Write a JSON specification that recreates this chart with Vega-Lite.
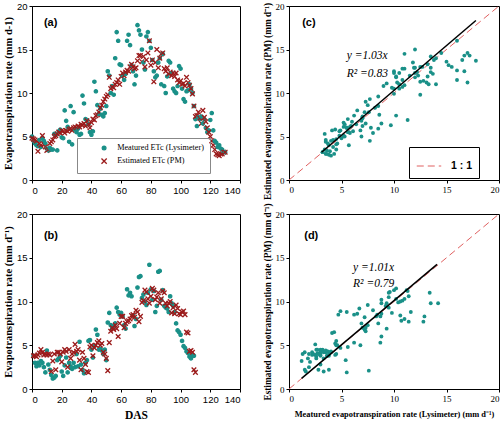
{
  "$schema": "https://vega.github.io/schema/vega-lite/v6.json",
  "background": "white",
  "padding": {"left": 2, "top": 0, "right": 2, "bottom": 0},
  "columns": 2,
  "bounds": "flush",
  "spacing": {"row": 34, "column": 49},
  "resolve": {"scale": {"color": "independent", "shape": "independent", "stroke": "independent"}},
  "config": {
    "view": {"stroke": "black", "strokeWidth": 1},
    "axis": {
      "grid": false, "domainColor": "black", "tickColor": "black", "tickSize": 3,
      "labelColor": "black", "labelFont": "Liberation Sans", "labelFontSize": 9.5, "labelPadding": 2, "labelOverlap": false, "labelSeparation": 0,
      "titleFont": "Liberation Serif", "titleFontWeight": "bold", "titleFontSize": 10.5,
      "titleColor": "black", "titlePadding": 3
    }
  },
  "datasets": {
    "a": [
      {"day":0,"measured":5.0,"estimated":4.8},{"day":1,"measured":4.5,"estimated":4.7},{"day":2,"measured":4.2,"estimated":4.6},
      {"day":3,"measured":4.0,"estimated":4.5},{"day":4,"measured":3.9,"estimated":3.3},{"day":5,"measured":4.6,"estimated":4.2},
      {"day":6,"measured":3.8,"estimated":4.0},{"day":7,"measured":4.8,"estimated":5.1},{"day":8,"measured":4.5,"estimated":4.1},
      {"day":9,"measured":4.2,"estimated":3.8},{"day":10,"measured":3.6,"estimated":3.4},{"day":11,"measured":3.4,"estimated":3.5},
      {"day":12,"measured":3.7,"estimated":4.2},{"day":13,"measured":3.5,"estimated":4.4},{"day":14,"measured":3.5,"estimated":4.6},
      {"day":15,"measured":5.3,"estimated":5.0},{"day":16,"measured":5.2,"estimated":5.1},{"day":17,"measured":3.4,"estimated":5.3},
      {"day":18,"measured":5.6,"estimated":5.5},{"day":19,"measured":5.8,"estimated":5.4},{"day":20,"measured":4.9,"estimated":5.7},
      {"day":21,"measured":4.8,"estimated":5.6},{"day":22,"measured":8.0,"estimated":5.4},{"day":23,"measured":6.8,"estimated":5.7},
      {"day":24,"measured":6.1,"estimated":5.6},{"day":25,"measured":4.4,"estimated":5.8},{"day":26,"measured":8.5,"estimated":5.9},
      {"day":27,"measured":4.1,"estimated":5.7},{"day":28,"measured":7.8,"estimated":6.0},{"day":29,"measured":5.8,"estimated":6.1},
      {"day":30,"measured":5.5,"estimated":6.0},{"day":31,"measured":5.9,"estimated":6.2},{"day":32,"measured":5.2,"estimated":6.1},
      {"day":33,"measured":5.3,"estimated":6.4},{"day":34,"measured":9.7,"estimated":6.3},{"day":35,"measured":8.8,"estimated":6.5},
      {"day":36,"measured":7.0,"estimated":6.2},{"day":37,"measured":6.9,"estimated":6.8},{"day":38,"measured":6.4,"estimated":6.4},
      {"day":39,"measured":5.5,"estimated":6.0},{"day":40,"measured":5.2,"estimated":6.6},{"day":41,"measured":5.6,"estimated":7.0},
      {"day":42,"measured":11.3,"estimated":6.9},{"day":43,"measured":10.2,"estimated":7.4},{"day":44,"measured":8.6,"estimated":7.5},
      {"day":45,"measured":7.6,"estimated":7.8},{"day":46,"measured":8.2,"estimated":8.3},{"day":47,"measured":7.5,"estimated":8.6},
      {"day":48,"measured":7.3,"estimated":9.0},{"day":49,"measured":7.7,"estimated":9.3},{"day":50,"measured":8.5,"estimated":9.6},
      {"day":51,"measured":12.5,"estimated":9.8},{"day":52,"measured":12.0,"estimated":11.8},{"day":53,"measured":10.0,"estimated":10.5},
      {"day":54,"measured":10.8,"estimated":10.7},{"day":55,"measured":9.8,"estimated":10.6},{"day":56,"measured":14.0,"estimated":11.0},
      {"day":57,"measured":17.0,"estimated":11.2},{"day":58,"measured":16.0,"estimated":11.5},{"day":59,"measured":13.3,"estimated":11.0},
      {"day":60,"measured":13.2,"estimated":11.9},{"day":61,"measured":12.0,"estimated":12.3},{"day":62,"measured":11.5,"estimated":12.0},
      {"day":63,"measured":12.2,"estimated":12.4},{"day":64,"measured":16.0,"estimated":12.6},{"day":65,"measured":16.7,"estimated":12.5},
      {"day":66,"measured":15.5,"estimated":13.0},{"day":67,"measured":13.2,"estimated":13.3},{"day":68,"measured":12.5,"estimated":13.0},
      {"day":69,"measured":11.0,"estimated":12.8},{"day":70,"measured":12.0,"estimated":12.9},{"day":71,"measured":17.8,"estimated":13.7},
      {"day":72,"measured":17.2,"estimated":14.3},{"day":73,"measured":16.7,"estimated":14.3},{"day":74,"measured":15.0,"estimated":13.6},
      {"day":75,"measured":13.5,"estimated":14.2},{"day":76,"measured":12.7,"estimated":13.0},{"day":77,"measured":16.5,"estimated":13.8},
      {"day":78,"measured":17.0,"estimated":14.6},{"day":79,"measured":16.0,"estimated":16.0},{"day":80,"measured":15.2,"estimated":13.2},
      {"day":81,"measured":13.8,"estimated":13.8},{"day":82,"measured":12.5,"estimated":11.3},{"day":83,"measured":11.8,"estimated":13.5},
      {"day":84,"measured":12.0,"estimated":15.0},{"day":85,"measured":13.5,"estimated":12.9},{"day":86,"measured":14.0,"estimated":14.0},
      {"day":87,"measured":11.0,"estimated":14.5},{"day":88,"measured":14.5,"estimated":14.6},{"day":89,"measured":10.8,"estimated":12.8},
      {"day":90,"measured":10.0,"estimated":12.5},{"day":91,"measured":11.9,"estimated":12.9},{"day":92,"measured":13.7,"estimated":12.2},
      {"day":93,"measured":13.5,"estimated":12.4},{"day":94,"measured":12.3,"estimated":12.0},{"day":95,"measured":10.5,"estimated":12.3},
      {"day":96,"measured":10.2,"estimated":11.9},{"day":97,"measured":10.0,"estimated":12.3},{"day":98,"measured":10.8,"estimated":11.5},
      {"day":99,"measured":13.1,"estimated":11.2},{"day":100,"measured":12.8,"estimated":11.4},{"day":101,"measured":10.5,"estimated":11.0},
      {"day":102,"measured":9.3,"estimated":11.1},{"day":103,"measured":9.0,"estimated":10.8},{"day":104,"measured":10.2,"estimated":11.8},
      {"day":105,"measured":10.3,"estimated":11.2},{"day":106,"measured":11.0,"estimated":10.9},{"day":107,"measured":10.5,"estimated":10.5},
      {"day":108,"measured":10.0,"estimated":9.9},{"day":109,"measured":8.5,"estimated":8.5},{"day":110,"measured":7.0,"estimated":7.3},
      {"day":111,"measured":6.2,"estimated":7.4},{"day":112,"measured":7.2,"estimated":7.8},{"day":113,"measured":7.0,"estimated":7.1},
      {"day":114,"measured":7.3,"estimated":6.5},{"day":115,"measured":6.5,"estimated":8.0},{"day":116,"measured":7.0,"estimated":7.2},
      {"day":117,"measured":6.0,"estimated":6.7},{"day":118,"measured":5.5,"estimated":6.0},{"day":119,"measured":5.7,"estimated":5.5},
      {"day":120,"measured":6.9,"estimated":5.0},{"day":121,"measured":7.7,"estimated":4.5},{"day":122,"measured":5.7,"estimated":4.0},
      {"day":123,"measured":4.5,"estimated":3.5},{"day":124,"measured":4.3,"estimated":3.0},{"day":125,"measured":3.8,"estimated":2.9},
      {"day":126,"measured":4.0,"estimated":2.8},{"day":127,"measured":3.6,"estimated":3.0},{"day":128,"measured":3.5,"estimated":3.0},
      {"day":129,"measured":3.2,"estimated":3.2},{"day":130,"measured":3.2,"estimated":3.2}
    ],
    "b": [
      {"day":1,"measured":3.8,"estimated":3.8},{"day":2,"measured":3.0,"estimated":3.8},{"day":3,"measured":2.6,"estimated":3.7},
      {"day":4,"measured":3.0,"estimated":3.9},{"day":5,"measured":2.7,"estimated":4.1},{"day":6,"measured":3.2,"estimated":4.5},
      {"day":7,"measured":3.0,"estimated":4.2},{"day":8,"measured":2.5,"estimated":3.9},{"day":9,"measured":1.9,"estimated":4.0},
      {"day":10,"measured":4.4,"estimated":3.9},{"day":11,"measured":2.8,"estimated":4.0},{"day":12,"measured":2.2,"estimated":3.9},
      {"day":13,"measured":1.6,"estimated":2.0},{"day":14,"measured":1.2,"estimated":3.2},{"day":15,"measured":1.3,"estimated":4.0},
      {"day":16,"measured":1.5,"estimated":2.2},{"day":17,"measured":3.3,"estimated":4.2},{"day":18,"measured":3.5,"estimated":4.2},
      {"day":19,"measured":3.8,"estimated":4.0},{"day":20,"measured":2.0,"estimated":3.1},{"day":21,"measured":1.5,"estimated":4.2},
      {"day":22,"measured":2.7,"estimated":4.5},{"day":23,"measured":3.6,"estimated":4.3},{"day":24,"measured":1.9,"estimated":2.5},
      {"day":25,"measured":3.0,"estimated":4.5},{"day":26,"measured":2.6,"estimated":3.5},{"day":27,"measured":2.3,"estimated":4.0},
      {"day":28,"measured":3.0,"estimated":4.2},{"day":29,"measured":2.5,"estimated":5.1},{"day":30,"measured":4.0,"estimated":4.3},
      {"day":31,"measured":2.6,"estimated":4.5},{"day":32,"measured":5.4,"estimated":3.3},{"day":33,"measured":2.8,"estimated":2.2},
      {"day":34,"measured":2.2,"estimated":4.2},{"day":35,"measured":1.8,"estimated":3.5},{"day":36,"measured":3.0,"estimated":2.8},
      {"day":37,"measured":3.3,"estimated":2.0},{"day":38,"measured":5.5,"estimated":1.9},{"day":39,"measured":5.6,"estimated":4.8},
      {"day":40,"measured":4.5,"estimated":5.0},{"day":41,"measured":3.6,"estimated":3.8},{"day":42,"measured":4.9,"estimated":4.7},
      {"day":43,"measured":6.8,"estimated":5.0},{"day":44,"measured":6.2,"estimated":5.3},{"day":45,"measured":4.5,"estimated":5.5},
      {"day":46,"measured":4.6,"estimated":5.0},{"day":47,"measured":4.4,"estimated":5.2},{"day":48,"measured":4.0,"estimated":4.2},
      {"day":49,"measured":4.5,"estimated":4.0},{"day":50,"measured":3.3,"estimated":3.5},{"day":51,"measured":7.6,"estimated":2.1},
      {"day":52,"measured":8.7,"estimated":5.3},{"day":53,"measured":7.3,"estimated":6.6},{"day":54,"measured":7.0,"estimated":7.0},
      {"day":55,"measured":7.2,"estimated":6.8},{"day":56,"measured":7.5,"estimated":7.3},{"day":57,"measured":9.3,"estimated":6.9},
      {"day":58,"measured":8.8,"estimated":6.0},{"day":59,"measured":8.5,"estimated":7.5},{"day":60,"measured":8.7,"estimated":8.3},
      {"day":61,"measured":8.3,"estimated":8.3},{"day":62,"measured":7.3,"estimated":7.0},{"day":63,"measured":6.9,"estimated":7.5},
      {"day":64,"measured":11.4,"estimated":7.7},{"day":65,"measured":10.7,"estimated":7.8},{"day":66,"measured":11.0,"estimated":8.0},
      {"day":67,"measured":10.6,"estimated":8.4},{"day":68,"measured":8.4,"estimated":8.5},{"day":69,"measured":7.2,"estimated":8.2},
      {"day":70,"measured":8.0,"estimated":9.0},{"day":71,"measured":11.6,"estimated":8.8},{"day":72,"measured":12.8,"estimated":7.7},
      {"day":73,"measured":12.9,"estimated":8.3},{"day":74,"measured":10.4,"estimated":9.9},{"day":75,"measured":10.8,"estimated":10.1},
      {"day":76,"measured":10.0,"estimated":11.3},{"day":77,"measured":9.6,"estimated":11.1},{"day":78,"measured":11.0,"estimated":10.3},
      {"day":79,"measured":14.2,"estimated":9.8},{"day":80,"measured":11.4,"estimated":10.6},{"day":81,"measured":10.2,"estimated":11.5},
      {"day":82,"measured":11.2,"estimated":11.3},{"day":83,"measured":8.8,"estimated":10.2},{"day":84,"measured":9.5,"estimated":10.5},
      {"day":85,"measured":13.4,"estimated":11.0},{"day":86,"measured":13.5,"estimated":9.8},{"day":87,"measured":10.2,"estimated":10.3},
      {"day":88,"measured":11.3,"estimated":11.2},{"day":89,"measured":9.5,"estimated":11.0},{"day":90,"measured":9.3,"estimated":9.8},
      {"day":91,"measured":9.2,"estimated":9.5},{"day":92,"measured":8.8,"estimated":9.8},{"day":93,"measured":10.6,"estimated":10.0},
      {"day":94,"measured":9.8,"estimated":8.7},{"day":95,"measured":9.5,"estimated":9.3},{"day":96,"measured":8.8,"estimated":8.6},
      {"day":97,"measured":7.5,"estimated":9.6},{"day":98,"measured":6.7,"estimated":9.2},{"day":99,"measured":6.5,"estimated":8.6},
      {"day":100,"measured":6.2,"estimated":8.5},{"day":101,"measured":5.5,"estimated":8.8},{"day":102,"measured":4.9,"estimated":8.9},
      {"day":103,"measured":4.7,"estimated":8.5},{"day":104,"measured":4.3,"estimated":6.5},{"day":105,"measured":4.1,"estimated":6.4},
      {"day":106,"measured":3.7,"estimated":4.3},{"day":107,"measured":3.5,"estimated":4.4},{"day":108,"measured":3.9,"estimated":4.2},
      {"day":109,"measured":3.8,"estimated":2.2},{"day":110,"measured":null,"estimated":1.9}
    ]
  },
  "concat": [
    {
      "width": 208, "height": 174,
      "encoding": {
        "x": {"type": "quantitative", "scale": {"domain": [0, 140], "nice": false},
              "axis": {"values": [0, 20, 40, 60, 80, 100, 120, 140], "title": null, "labelOverlap": false}},
        "y": {"type": "quantitative", "scale": {"domain": [0, 20], "nice": false},
              "axis": {"values": [0, 5, 10, 15, 20], "title": "Evapotranspiration rate (mm d-1)", "labelOverlap": false}}
      },
      "layer": [
        {
          "data": {"name": "a"},
          "transform": [{"fold": ["measured", "estimated"], "as": ["series", "value"]}],
          "mark": {"type": "point", "filled": true, "size": 11, "strokeWidth": 1.3, "opacity": 1},
          "encoding": {
            "x": {"field": "day"},
            "y": {"field": "value"},
            "color": {"field": "series", "type": "nominal",
                      "scale": {"domain": ["measured", "estimated"], "range": ["#1a9088", "#9b1b1b"]},
                      "legend": {"title": null, "orient": "none", "legendX": 45, "legendY": 132, "strokeColor": "#888888", "padding": 6, "symbolOffset": 17, "labelOffset": 9, "rowPadding": 2, "labelFont": "Liberation Serif", "labelFontSize": 8.2, "labelColor": "black", "symbolSize": 14, "symbolStrokeWidth": 1.3, "labelExpr": "datum.label == 'measured' ? 'Meatured ETc (Lysimeter)' : 'Estimated ETc (PM)'"}},
            "stroke": {"field": "series", "type": "nominal",
                      "scale": {"domain": ["measured", "estimated"], "range": ["#1a9088", "#9b1b1b"]},
                      "legend": {"title": null, "orient": "none", "legendX": 45, "legendY": 132, "strokeColor": "#888888", "padding": 6, "symbolOffset": 17, "labelOffset": 9, "rowPadding": 2, "labelFont": "Liberation Serif", "labelFontSize": 8.2, "labelColor": "black", "symbolSize": 14, "symbolStrokeWidth": 1.3, "labelExpr": "datum.label == 'measured' ? 'Meatured ETc (Lysimeter)' : 'Estimated ETc (PM)'"}},
            "shape": {"field": "series", "type": "nominal",
                      "scale": {"domain": ["measured", "estimated"], "range": ["circle", "M-1.4,-1.4L1.4,1.4M1.4,-1.4L-1.4,1.4"]},
                      "legend": {"title": null, "orient": "none", "legendX": 45, "legendY": 132, "strokeColor": "#888888", "padding": 6, "symbolOffset": 17, "labelOffset": 9, "rowPadding": 2, "labelFont": "Liberation Serif", "labelFontSize": 8.2, "labelColor": "black", "symbolSize": 14, "symbolStrokeWidth": 1.3, "labelExpr": "datum.label == 'measured' ? 'Meatured ETc (Lysimeter)' : 'Estimated ETc (PM)'"}}
          }
        },
        {
          "data": {"values": [{"label": "(a)"}]},
          "mark": {"type": "text", "font": "Liberation Sans", "fontWeight": "bold", "fontSize": 11, "align": "left", "baseline": "middle", "color": "black"},
          "encoding": {"x": {"datum": 8}, "y": {"datum": 18}, "text": {"field": "label"}}
        }
      ]
    },
    {
      "width": 210, "height": 174,
      "encoding": {
        "x": {"type": "quantitative", "scale": {"domain": [0, 20], "nice": false},
              "axis": {"values": [0, 5, 10, 15, 20], "title": null, "labelFont": "Liberation Serif", "labelFontSize": 9, "labelOverlap": false}},
        "y": {"type": "quantitative", "scale": {"domain": [0, 20], "nice": false},
              "axis": {"values": [0, 5, 10, 15, 20], "title": "Estimated evapotranspiration rate (PM) (mm d⁻¹)", "titleFontSize": 9.3, "titleY": 95, "labelFont": "Liberation Serif", "labelFontSize": 9, "labelOverlap": false}}
      },
      "layer": [
        {
          "data": {"values": [{}]},
          "mark": {"type": "rule", "strokeDash": [7, 4], "strokeWidth": 1},
          "encoding": {
            "x": {"datum": 0}, "y": {"datum": 0}, "x2": {"datum": 20}, "y2": {"datum": 20},
            "color": {"datum": "1 : 1", "scale": {"range": ["#e06060"]},
                      "legend": {"title": null, "orient": "none", "legendX": 120, "legendY": 141, "strokeColor": "black", "padding": 6, "symbolType": "stroke", "symbolSize": 600, "symbolDash": [7, 4], "symbolStrokeWidth": 1, "symbolOffset": 1, "labelOffset": 9, "labelFont": "Liberation Sans", "labelFontWeight": "bold", "labelFontSize": 10.5, "labelColor": "black"}}
          }
        },
        {
          "data": {"name": "a"},
          "mark": {"type": "point", "filled": true, "size": 15, "color": "#1a9088", "opacity": 1},
          "encoding": {"x": {"field": "measured"}, "y": {"field": "estimated"}}
        },
        {
          "data": {"values": [{}]},
          "mark": {"type": "rule", "color": "black", "strokeWidth": 1.5},
          "encoding": {"x": {"datum": 3.1}, "y": {"datum": 3.19}, "x2": {"datum": 17.8}, "y2": {"datum": 18.33}}
        },
        {
          "data": {"values": [{"label": "(c)"}]},
          "mark": {"type": "text", "font": "Liberation Sans", "fontWeight": "bold", "fontSize": 11, "align": "left", "baseline": "middle", "color": "black"},
          "encoding": {"x": {"datum": 1.25}, "y": {"datum": 18}, "text": {"field": "label"}}
        },
        {
          "data": {"values": [{"label": "y =1.03x"}]},
          "mark": {"type": "text", "font": "Liberation Serif", "fontStyle": "italic", "fontSize": 11.5, "align": "left", "baseline": "middle", "color": "black"},
          "encoding": {"x": {"datum": 5.5}, "y": {"datum": 14.25}, "text": {"field": "label"}}
        },
        {
          "data": {"values": [{"label": "R² =0.83"}]},
          "mark": {"type": "text", "font": "Liberation Serif", "fontStyle": "italic", "fontSize": 11.5, "align": "left", "baseline": "middle", "color": "black"},
          "encoding": {"x": {"datum": 5.5}, "y": {"datum": 12.2}, "text": {"field": "label"}}
        }
      ]
    },
    {
      "width": 208, "height": 175,
      "encoding": {
        "x": {"type": "quantitative", "scale": {"domain": [0, 140], "nice": false},
              "axis": {"values": [0, 20, 40, 60, 80, 100, 120, 140], "title": "DAS", "titleFontSize": 11.5, "titlePadding": 6, "labelOverlap": false}},
        "y": {"type": "quantitative", "scale": {"domain": [0, 20], "nice": false},
              "axis": {"values": [0, 5, 10, 15, 20], "title": "Evapotranspiration rate (mm d⁻¹)", "labelOverlap": false}}
      },
      "layer": [
        {
          "data": {"name": "b"},
          "mark": {"type": "point", "filled": true, "size": 11, "strokeWidth": 1.3, "color": "#1a9088", "stroke": "#1a9088", "opacity": 1},
          "encoding": {"x": {"field": "day"}, "y": {"field": "measured"}}
        },
        {
          "data": {"name": "b"},
          "mark": {"type": "point", "shape": "M-1.4,-1.4L1.4,1.4M1.4,-1.4L-1.4,1.4", "filled": false, "size": 11, "strokeWidth": 1.3, "color": "#9b1b1b", "opacity": 1},
          "encoding": {"x": {"field": "day"}, "y": {"field": "estimated"}}
        },
        {
          "data": {"values": [{"label": "(b)"}]},
          "mark": {"type": "text", "font": "Liberation Sans", "fontWeight": "bold", "fontSize": 11, "align": "left", "baseline": "middle", "color": "black"},
          "encoding": {"x": {"datum": 8}, "y": {"datum": 17.5}, "text": {"field": "label"}}
        }
      ]
    },
    {
      "width": 210, "height": 175,
      "encoding": {
        "x": {"type": "quantitative", "scale": {"domain": [0, 20], "nice": false},
              "axis": {"values": [0, 5, 10, 15, 20], "title": "Meatured evapotranspiration rate (Lysimeter) (mm d⁻¹)", "titleFontSize": 8.4, "titlePadding": 6, "labelFont": "Liberation Serif", "labelFontSize": 9, "labelOverlap": false}},
        "y": {"type": "quantitative", "scale": {"domain": [0, 20], "nice": false},
              "axis": {"values": [0, 5, 10, 15, 20], "title": "Estimated evapotranspiration rate (PM) (mm d⁻¹)", "titleFontSize": 9.3, "labelFont": "Liberation Serif", "labelFontSize": 9, "labelOverlap": false}}
      },
      "layer": [
        {
          "data": {"values": [{}]},
          "mark": {"type": "rule", "strokeDash": [7, 4], "strokeWidth": 1, "color": "#e06060"},
          "encoding": {"x": {"datum": 0}, "y": {"datum": 0}, "x2": {"datum": 20}, "y2": {"datum": 20}}
        },
        {
          "data": {"name": "b"},
          "mark": {"type": "point", "filled": true, "size": 15, "color": "#1a9088", "opacity": 1},
          "encoding": {"x": {"field": "measured"}, "y": {"field": "estimated"}}
        },
        {
          "data": {"values": [{}]},
          "mark": {"type": "rule", "color": "black", "strokeWidth": 1.5},
          "encoding": {"x": {"datum": 1.2}, "y": {"datum": 1.21}, "x2": {"datum": 14.1}, "y2": {"datum": 14.24}}
        },
        {
          "data": {"values": [{"label": "(d)"}]},
          "mark": {"type": "text", "font": "Liberation Sans", "fontWeight": "bold", "fontSize": 11, "align": "left", "baseline": "middle", "color": "black"},
          "encoding": {"x": {"datum": 1.45}, "y": {"datum": 17.5}, "text": {"field": "label"}}
        },
        {
          "data": {"values": [{"label": "y =1.01x"}]},
          "mark": {"type": "text", "font": "Liberation Serif", "fontStyle": "italic", "fontSize": 11.5, "align": "left", "baseline": "middle", "color": "black"},
          "encoding": {"x": {"datum": 6.1}, "y": {"datum": 13.8}, "text": {"field": "label"}}
        },
        {
          "data": {"values": [{"label": "R² =0.79"}]},
          "mark": {"type": "text", "font": "Liberation Serif", "fontStyle": "italic", "fontSize": 11.5, "align": "left", "baseline": "middle", "color": "black"},
          "encoding": {"x": {"datum": 6.1}, "y": {"datum": 12.0}, "text": {"field": "label"}}
        }
      ]
    }
  ]
}
